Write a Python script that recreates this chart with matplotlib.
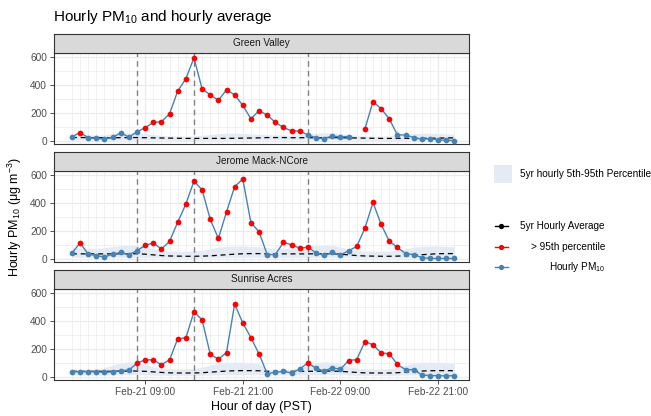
import numpy as np
import matplotlib
matplotlib.use("Agg")
import matplotlib.pyplot as plt
from matplotlib.patches import Rectangle

plt.rcParams['font.family'] = ['Liberation Sans', 'DejaVu Sans']
plt.rcParams['mathtext.fontset'] = 'custom'
plt.rcParams['mathtext.rm'] = 'Liberation Sans'
plt.rcParams['mathtext.it'] = 'Liberation Sans:italic'
plt.rcParams['mathtext.default'] = 'regular'

# ---- data ----
sites = ['Green Valley', 'Jerome Mack-NCore', 'Sunrise Acres']
hours = np.arange(48)            # Feb-21 00:00 .. Feb-22 23:00 (PST)
tick_hours = [9, 21, 33, 45]
tick_labels = ['Feb-21 09:00', 'Feb-21 21:00', 'Feb-22 09:00', 'Feb-22 21:00']
event_hours = [8, 15, 29]        # dashed grey markers

gv_pm10 = [30, 60, 24, 18, 15, 25, 58, 27, 65, 94, 132, 137, 194, 355, 444, 593,
           372, 329, 290, 365, 329, 254, 158, 216, 185, 132, 96, 72, 70, 43, 22, 17,
           34, 29, 31, np.nan, 84, 281, 230, 158, 43, 43, 24, 12, 17, 7, 5, 2]
jm_pm10 = [41, 115, 34, 24, 14, 34, 46, 31, 60, 96, 115, 70, 125, 262, 391, 555,
           494, 283, 146, 336, 516, 570, 259, 194, 31, 31, 118, 101, 77, 84, 43, 26,
           46, 29, 58, 89, 218, 403, 247, 127, 82, 38, 31, 10, 3, 3, 3, 3]
sa_pm10 = [37, 37, 37, 37, 33, 37, 45, 49, 98, 122, 122, 87, 122, 272, 279, 464,
           408, 162, 127, 173, 520, 385, 281, 163, 23, 33, 40, 28, 56, 101, 61, 42,
           66, 54, 117, 124, 251, 230, 171, 166, 89, 52, 52, 14, 9, 9, 7, 9]

# hours flagged above the 95th percentile (red points)
gv_exceed = [1] + list(range(9, 29)) + list(range(36, 40))
jm_exceed = [1] + list(range(9, 24)) + list(range(26, 30)) + list(range(35, 41))
sa_exceed = list(range(8, 24)) + [29] + list(range(34, 41))

# 5yr hourly climatology by hour of day (0..23)
gv_avg = [24, 24, 24, 23, 23, 23, 23, 24, 24, 23, 22, 21, 20, 19, 18, 18, 18, 18, 18, 18, 19, 20, 21, 22]
jm_avg = [36, 36, 36, 36, 36, 36, 37, 37, 37, 34, 29, 24, 21, 20, 19, 19, 20, 22, 26, 30, 34, 37, 38, 38]
sa_avg = [40, 40, 40, 40, 40, 40, 41, 42, 42, 40, 36, 32, 29, 28, 28, 28, 30, 34, 38, 42, 44, 45, 45, 44]
gv_p05 = [8, 8, 7, 7, 7, 7, 8, 9, 9, 8, 7, 6, 6, 5, 5, 5, 5, 6, 6, 7, 7, 8, 8, 8]
gv_p95 = [45, 44, 42, 42, 44, 50, 55, 58, 58, 54, 46, 40, 36, 34, 34, 36, 40, 46, 52, 55, 55, 54, 50, 47]
jm_p05 = [12, 11, 10, 10, 10, 10, 11, 12, 12, 11, 9, 8, 7, 7, 7, 7, 7, 8, 9, 10, 11, 12, 12, 12]
jm_p95 = [80, 78, 75, 75, 80, 88, 95, 98, 96, 85, 70, 60, 56, 55, 55, 57, 62, 72, 84, 90, 92, 92, 90, 86]
sa_p05 = [15, 14, 14, 14, 14, 14, 15, 16, 16, 15, 13, 12, 11, 11, 11, 11, 12, 13, 14, 15, 16, 16, 16, 16]
sa_p95 = [55, 54, 54, 56, 65, 85, 100, 108, 105, 90, 72, 62, 58, 58, 58, 60, 70, 85, 98, 104, 105, 104, 102, 95]

pm10 = [gv_pm10, jm_pm10, sa_pm10]
exceed = [gv_exceed, jm_exceed, sa_exceed]
avg = [gv_avg, jm_avg, sa_avg]
p05 = [gv_p05, jm_p05, sa_p05]
p95 = [gv_p95, jm_p95, sa_p95]

blue = '#4682B4'
red = '#FF0000'
ribbon = '#E4EBF5'
grid_col = '#EBEBEB'
border = '#333333'

# ---- layout in pixels ----
W, H = 651, 416
left, right = 54, 469
panel_tops = [53, 171, 289]
panel_h = 91
strip_h = 19


def box(x0, y0, x1, y1):
    return [x0 / W, 1 - y1 / H, (x1 - x0) / W, (y1 - y0) / H]


fig = plt.figure(figsize=(W / 100, H / 100), dpi=100)

for i, site in enumerate(sites):
    top = panel_tops[i]
    ax = fig.add_axes(box(left, top, right, top + panel_h))
    y = np.array(pm10[i], dtype=float)
    red_mask = np.isin(hours, exceed[i])
    ok = ~np.isnan(y)

    ax.fill_between(hours, np.tile(p05[i], 2), np.tile(p95[i], 2),
                    color=ribbon, lw=0, zorder=1)
    ax.plot(hours, np.tile(avg[i], 2), color='black', ls=(0, (4, 3)), lw=0.9, zorder=2)
    for h in event_hours:
        ax.axvline(h, color='#808080', ls=(0, (4, 3)), lw=1, zorder=2)
    ax.plot(hours, y, color=blue, lw=1.0, zorder=3)
    ax.scatter(hours[ok & ~red_mask], y[ok & ~red_mask], s=17, color=blue, lw=0, zorder=4)
    ax.scatter(hours[red_mask], y[red_mask], s=17, color=red, lw=0, zorder=5)

    ax.set_xlim(-2.2, 48.8)
    ax.set_ylim(-22, 628)
    ax.set_xticks(tick_hours)
    ax.set_xticks(hours, minor=True)
    ax.set_yticks([0, 200, 400, 600])
    ax.set_yticks([100, 300, 500], minor=True)
    ax.grid(which='major', color=grid_col, lw=0.9, zorder=0)
    ax.grid(which='minor', color=grid_col, lw=0.5, zorder=0)
    ax.set_axisbelow(True)
    ax.tick_params(which='minor', length=0)
    ax.tick_params(which='major', length=3, width=0.6, color=border,
                   labelsize=7.3, labelcolor='#4D4D4D', pad=2)
    if i < 2:
        ax.tick_params(axis='x', which='major', length=0, labelbottom=False)
    else:
        ax.set_xticklabels(tick_labels)
    for s in ax.spines.values():
        s.set_color(border)
        s.set_linewidth(0.8)

    sax = fig.add_axes(box(left, top - strip_h, right, top))
    sax.set_facecolor('#D9D9D9')
    sax.set_xticks([])
    sax.set_yticks([])
    for s in sax.spines.values():
        s.set_color(border)
        s.set_linewidth(0.8)
    sax.text(0.5, 0.5, site, ha='center', va='center', fontsize=7.2, color='#1A1A1A')

fig.text(53 / W, 1 - 17 / H, 'Hourly PM$_{10}$ and hourly average', fontsize=11,
         ha='left', va='center')
fig.text((left + right) / 2 / W, 1 - 407 / H, 'Hour of day (PST)', fontsize=9,
         ha='center', va='center')
fig.text(15 / W, 1 - 217 / H, r'Hourly PM$_{10}$ ($\mu$g m$^{-3}$)', fontsize=9,
         rotation=90, ha='center', va='center')

# ---- legend ----
lax = fig.add_axes([0, 0, 1, 1], facecolor='none')
lax.set_xlim(0, W)
lax.set_ylim(H, 0)
lax.axis('off')
lax.add_patch(Rectangle((494, 165), 18, 18, color=ribbon, lw=0))
lax.text(520, 174, '5yr hourly 5th-95th Percentile', fontsize=7.2, va='center', ha='left')
keys = [('black', '5yr Hourly Average', 226),
        (red, '> 95th percentile', 246.5),
        (blue, 'Hourly PM$_{10}$', 266.5)]
for col, lab, yk in keys:
    lax.plot([495, 501, 508], [yk, yk, yk], color=col, ls='-', lw=1.0,
             marker='o', markersize=3.8, markevery=[1], mew=0)
    lax.text(605, yk, lab, fontsize=7.2, va='center', ha='right')

fig.savefig('out.png', dpi=100)
